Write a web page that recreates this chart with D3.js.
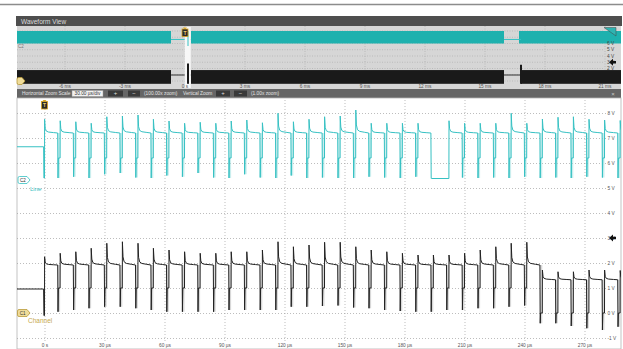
<!DOCTYPE html>
<html>
<head>
<meta charset="utf-8">
<script src="https://cdn.jsdelivr.net/npm/d3@7"></script>
<style>
body { margin: 0; background: #fff; }
svg { display: block; }
text { font-family: "Liberation Sans", Arial, sans-serif; }
</style>
</head>
<body>
<script>
// Tick values for both views
var timeTicksUs = [0, 30, 60, 90, 120, 150, 180, 210, 240, 270];
var voltTicks = [-1, 0, 1, 2, 3, 4, 5, 6, 7, 8];
var overviewTicksMs = [-6, -3, 0, 3, 6, 9, 12, 15, 18, 21];
var overviewVoltLabels = [2, 3, 4, 5, 6];

// Rising edge of every pulse in the zoomed view (µs)
var pulseStart = [0, 7.8, 15.6, 23.3, 31.1, 38.9, 46.7, 54.4, 62.2, 70.0, 77.8, 85.6, 93.3,
    101.1, 108.9, 116.7, 124.4, 132.2, 140.0, 147.8, 155.6, 163.3, 171.1, 178.9, 186.7, 194.4,
    202.2, 210.0, 217.8, 225.6, 233.3, 241.1, 248.9, 256.7, 264.4, 272.2, 280.0, 287.8];

// C2 "Line" (cyan) - overshoot peak and bottom of the down spike per pulse (V), null = pulse missing
var c2Peak = [7.75, 7.69, 7.65, 7.59, 7.85, 7.88, 7.92, 7.75, 7.68, 7.59, 7.63, 7.59, 7.68,
    7.72, 7.61, 7.99, 7.65, 7.75, 7.85, 7.88, 8.12, 7.59, 7.59, 7.59, 7.59, null,
    7.69, 7.59, 7.59, 7.59, 7.99, 7.59, 7.76, 7.83, 7.85, 7.75, 7.72, 7.70];
var c2Low = [5.4, 5.45, 5.4, 5.55, 5.6, 5.42, 5.4, 5.5, 5.45, 5.6, 5.42, 5.4, 5.55,
    5.42, 5.4, 5.5, 5.4, 5.42, 5.4, 5.4, 5.45, 5.42, 5.4, 5.45, 5.38, 5.4,
    5.42, 5.4, 5.42, 5.4, 5.45, 5.4, 5.42, 5.4, 5.45, 5.42, 5.4, 5.4];
var c2End = 7.2;
var c2Blip = 6.2;
var c2Pre = [6.65, 5.4];

// C1 "Channel" (black)
var c1Peak = [2.25, 2.39, 2.45, 2.59, 2.79, 2.85, 2.79, 2.59, 2.52, 2.45, 2.39, 2.39, 2.45,
    2.45, 2.52, 2.85, 2.65, 2.72, 2.83, 2.83, 2.65, 2.52, 2.45, 2.39, 2.32, 2.32,
    2.32, 2.39, 2.52, 2.65, 2.79, 2.83, 1.72, 1.65, 1.65, 1.72, 1.72, 1.70];
var c1Low = [0.05, 0.12, 0.19, 0.25, 0.25, 0.19, 0.12, 0.05, 0.05, 0.05, 0.05, 0.12, 0.12,
    0.12, 0.12, 0.25, 0.25, 0.28, 0.3, 0.22, 0.19, 0.12, 0.08, 0.05, 0.05, 0.12,
    0.12, 0.19, 0.19, 0.25, 0.3, -0.41, -0.41, -0.52, -0.61, -0.68, -0.55, -0.55];
var c1End = [1.92, 1.92, 1.92, 1.92, 1.92, 1.92, 1.92, 1.92, 1.92, 1.92, 1.92, 1.92, 1.92,
    1.92, 1.92, 1.92, 1.92, 1.92, 1.92, 1.92, 1.92, 1.92, 1.92, 1.92, 1.92, 1.92,
    1.92, 1.92, 1.92, 1.92, 1.92, 1.92, 1.33, 1.33, 1.33, 1.33, 1.33, 1.33];
var c1Blip = [1, 1, 1, 1, 1, 1, 1, 1, 1, 1, 1, 1, 1, 1, 1, 1, 1, 1, 1, 1, 1, 1, 1, 1, 1, 1,
    1, 1, 1, 1, 1, 0, 0, 0, 0, 0, 0, 0];
var c1Pre = [0.96, -0.1];

// shape of the decay after each edge: [µs after edge, share of overshoot left]
var decayShape = [[0.35, 0.35], [0.9, 0.14], [2.0, 0.07], [4.5, 0.03]];

// Overview (ms): where the burst is running, and the quiet gaps
var c2BandMs = [[-8.4, -0.7], [0.3, 15.95], [16.7, 21.8]];
var c1BandMs = [[-8.4, -0.7], [0.3, 15.95], [16.8, 21.8]];
var gapMs = [[-0.7, 0.3], [15.95, 16.8]];
var c2BandV = [6.0, 8.0];
var c1BandV = [-0.45, 1.75];

var W = 623, H = 349;
var cyan = "#36c1c3";
var gridCol = "#a0a0a0";

var svg = d3.select("body").append("svg").attr("width", W).attr("height", H);

// thin rule at the very top
svg.append("line").attr("x1", 0).attr("x2", W).attr("y1", 4.5).attr("y2", 4.5)
    .attr("stroke", "#8c8c8c").attr("stroke-width", 1.5);

// ---------------- Overview panel ----------------
var xo = d3.scaleLinear().domain([-8.4, 21.8]).range([17, 621]);
var yo = d3.scaleLinear().domain([0, 8]).range([81, 31]);

svg.append("rect").attr("x", 16).attr("y", 16).attr("width", 606).attr("height", 10).attr("fill", "#4e4e4e");
svg.append("text").attr("x", 21).attr("y", 23.5).attr("font-size", "6.5px").attr("fill", "#dcdcdc").text("Waveform View");
svg.append("rect").attr("x", 17).attr("y", 26).attr("width", 604).attr("height", 63).attr("fill", "#d6d6d6");

// overview grid
svg.append("g").selectAll("line").data(d3.range(0, 9)).enter().append("line")
    .attr("x1", 17).attr("x2", 604).attr("y1", function(d) { return yo(d); }).attr("y2", function(d) { return yo(d); })
    .attr("stroke", "#a9a9a9").attr("stroke-width", 0.6).attr("stroke-dasharray", "1,1.5");
svg.append("g").selectAll("line").data(overviewTicksMs).enter().append("line")
    .attr("x1", function(d) { return xo(d); }).attr("x2", function(d) { return xo(d); })
    .attr("y1", 26).attr("y2", 85)
    .attr("stroke", "#a9a9a9").attr("stroke-width", 0.6).attr("stroke-dasharray", "1,1.5");

// bands
svg.append("g").selectAll("rect").data(c2BandMs).enter().append("rect")
    .attr("x", function(d) { return xo(d[0]); }).attr("width", function(d) { return xo(d[1]) - xo(d[0]); })
    .attr("y", yo(c2BandV[1])).attr("height", yo(c2BandV[0]) - yo(c2BandV[1])).attr("fill", "#1eb1ae");
svg.append("g").selectAll("rect").data(c1BandMs).enter().append("rect")
    .attr("x", function(d) { return xo(d[0]); }).attr("width", function(d) { return xo(d[1]) - xo(d[0]); })
    .attr("y", yo(c1BandV[1])).attr("height", yo(c1BandV[0]) - yo(c1BandV[1])).attr("fill", "#1a1a1a");
// quiet parts
svg.append("g").selectAll("line").data(gapMs).enter().append("line")
    .attr("x1", function(d) { return xo(d[0]); }).attr("x2", function(d) { return xo(d[1]); })
    .attr("y1", yo(c2Pre[0])).attr("y2", yo(c2Pre[0])).attr("stroke", cyan).attr("stroke-width", 1);
svg.append("g").selectAll("line").data(gapMs).enter().append("line")
    .attr("x1", function(d) { return xo(d[0]); }).attr("x2", function(d) { return xo(d[1]); })
    .attr("y1", yo(c1Pre[0])).attr("y2", yo(c1Pre[0])).attr("stroke", "#333").attr("stroke-width", 1);

// zoom window (white stripe) with the squeezed burst start
var zw = xo(-0.01375), zw1 = xo(0.28825);
svg.append("rect").attr("x", zw).attr("y", 27).attr("width", zw1 - zw).attr("height", 61).attr("fill", "#f7f7f7");
svg.append("rect").attr("x", xo(0.1)).attr("y", yo(2.8)).attr("width", 2).attr("height", yo(-0.45) - yo(2.8)).attr("fill", "#1a1a1a");
svg.append("line").attr("x1", xo(0.15)).attr("x2", xo(0.15)).attr("y1", yo(8)).attr("y2", yo(5.6)).attr("stroke", cyan);
svg.append("rect").attr("x", xo(16.75)).attr("y", yo(2.6)).attr("width", 2).attr("height", yo(-0.45) - yo(2.6)).attr("fill", "#1a1a1a");

// overview labels
svg.append("g").selectAll("text").data(overviewTicksMs).enter().append("text")
    .attr("x", function(d) { return xo(d); }).attr("y", 88.3).attr("text-anchor", "middle")
    .attr("font-size", "4.8px").attr("fill", "#555")
    .text(function(d) { return d === 0 ? "0 s" : d + " ms"; });
svg.append("g").selectAll("text").data(overviewVoltLabels).enter().append("text")
    .attr("x", 607).attr("y", function(d) { return yo(d) + 1.7; })
    .attr("font-size", "4.8px").attr("fill", "#444")
    .text(function(d) { return d + " V"; });
svg.append("text").attr("x", 18).attr("y", 48).attr("font-size", "4.5px").attr("fill", "#777").text("C2");

// ---------------- Toolbar ----------------
svg.append("rect").attr("x", 17).attr("y", 89).attr("width", 604).attr("height", 9).attr("fill", "#666");
var tb = svg.append("g").attr("font-size", "4.8px");
tb.append("text").attr("x", 22).attr("y", 95.3).attr("fill", "#e4e4e4").text("Horizontal Zoom Scale");
tb.append("rect").attr("x", 72).attr("y", 90.5).attr("width", 31).attr("height", 6).attr("fill", "#f2f2f2").attr("stroke", "#999").attr("stroke-width", 0.5);
tb.append("text").attr("x", 87.5).attr("y", 95.2).attr("text-anchor", "middle").attr("fill", "#333").text("30.00 µs/div");
var buttons = [[108, 15, "+"], [128, 12, "−"], [216, 14, "+"], [234, 13, "−"]];
buttons.forEach(function(b) {
    tb.append("rect").attr("x", b[0]).attr("y", 90.5).attr("width", b[1]).attr("height", 6).attr("fill", "#3a3a3a");
    tb.append("text").attr("x", b[0] + b[1] / 2).attr("y", 95.4).attr("text-anchor", "middle").attr("fill", "#ddd").attr("font-size", "6px").text(b[2]);
});
tb.append("text").attr("x", 144).attr("y", 95.3).attr("fill", "#e4e4e4").text("(100.00x zoom)");
tb.append("text").attr("x", 183).attr("y", 95.3).attr("fill", "#e4e4e4").text("Vertical Zoom");
tb.append("text").attr("x", 251).attr("y", 95.3).attr("fill", "#e4e4e4").text("(1.00x zoom)");
tb.append("text").attr("x", 613).attr("y", 95.6).attr("text-anchor", "middle").attr("fill", "#ccc").attr("font-size", "6px").text("×");

// ---------------- Zoomed view ----------------
var x = d3.scaleLinear().domain([-13.75, 288.25]).range([17, 621]);
var y = d3.scaleLinear().domain([-1, 8]).range([338, 113]);

svg.append("rect").attr("x", 17).attr("y", 98).attr("width", 604).attr("height", 251)
    .attr("fill", "#fff").attr("stroke", "#b5b5b5").attr("stroke-width", 0.8);

// grid + tick labels through the axes
var xAxis = d3.axisBottom(x).tickValues(timeTicksUs).tickSize(-243).tickPadding(3)
    .tickFormat(function(d) { return d === 0 ? "0 s" : d + " µs"; });
var gx = svg.append("g").attr("transform", "translate(0,341)").call(xAxis);
var yAxis = d3.axisRight(y).tickValues(voltTicks).tickSize(-589).tickPadding(1.5)
    .tickFormat(function(d) { return d + " V"; });
var gy = svg.append("g").attr("transform", "translate(606,0)").call(yAxis);
[gx, gy].forEach(function(g) {
    g.select(".domain").remove();
    g.selectAll(".tick line").attr("stroke", gridCol).attr("stroke-width", 0.7).attr("stroke-dasharray", "1,2");
    g.selectAll(".tick text").attr("font-size", "4.8px").attr("fill", "#555").attr("font-family", "Liberation Sans, Arial, sans-serif");
});

function val(a, k) { return Array.isArray(a) ? a[k] : a; }

// turn the per-pulse readings into a polyline, and collect the down spikes
function buildTrace(pre, peak, low, end, blip) {
    var pts = [[x.domain()[0], pre[0]], [-0.45, pre[0]], [-0.3, pre[1]], [0, pre[1]]];
    var spikes = [];
    var k = 0;
    while (k < pulseStart.length) {
        var t0 = pulseStart[k];
        var j = k + 1;
        while (j < pulseStart.length && peak[j] == null) j++;
        var t1 = k + 1 < pulseStart.length ? pulseStart[k + 1] : t0 + 7.8;
        var tNext = j < pulseStart.length ? pulseStart[j] : t1;
        var e = val(end, k);
        var b = j > k + 1 ? low[k] : val(blip, k);
        pts.push([t0 + 0.05, peak[k]]);
        decayShape.forEach(function(s) { pts.push([t0 + s[0], e + s[1] * (peak[k] - e)]); });
        pts.push([t1 - 1.2, e], [t1 - 1.05, low[k]], [t1 - 0.85, b], [tNext, b]);
        if (j === k + 1) spikes.push({ t: t1 - 1.2, t1: t1, hi: e, lo: low[k] });
        k = j;
    }
    return { pts: pts, spikes: spikes };
}

svg.append("clipPath").attr("id", "plotClip").append("rect")
    .attr("x", 17).attr("y", 98).attr("width", 604).attr("height", 251);

var line = d3.line().x(function(d) { return x(d[0]); }).y(function(d) { return y(d[1]); });

var c2 = buildTrace(c2Pre, c2Peak, c2Low, c2End, c2Blip);
var c1 = buildTrace(c1Pre, c1Peak, c1Low, c1End, c1Blip);

var traces = svg.append("g").attr("clip-path", "url(#plotClip)");
// faint smear inside each fast down spike
[[c2, "#9fe0e0"], [c1, "#b8b8b8"]].forEach(function(c) {
    traces.append("g").selectAll("rect").data(c[0].spikes).enter().append("rect")
        .attr("x", function(d) { return x(d.t); }).attr("width", function(d) { return x(d.t1) - x(d.t); })
        .attr("y", function(d) { return y(d.hi); }).attr("height", function(d) { return y(d.lo) - y(d.hi); })
        .attr("fill", c[1]).attr("opacity", 0.55);
});
traces.append("path").attr("d", line(c2.pts))
    .attr("fill", "none").attr("stroke", cyan).attr("stroke-width", 1);
traces.append("path").attr("d", line(c1.pts))
    .attr("fill", "none").attr("stroke", "#222").attr("stroke-width", 1);

// ---------------- markers ----------------
function trigger(cx, top) {
    var g = svg.append("g");
    g.append("path").attr("d", "M" + (cx - 2) + "," + top + " L" + (cx + 2) + "," + top + " L" + cx + "," + (top + 2) + "Z").attr("fill", "#d9a520");
    g.append("rect").attr("x", cx - 3).attr("y", top + 1.5).attr("width", 6).attr("height", 7.5)
        .attr("fill", "#2b2b2b").attr("stroke", "#d9a520").attr("stroke-width", 0.8);
    g.append("text").attr("x", cx).attr("y", top + 7.3).attr("text-anchor", "middle").attr("font-size", "5px")
        .attr("font-weight", "bold").attr("fill", "#f0d070").text("T");
}
trigger(x(0), 100);
trigger(xo(0), 27.5);

function arrowLeft(ax, ay) {
    svg.append("path").attr("d", "M" + ax + "," + ay + " L" + (ax + 4) + "," + (ay - 3.5) + " L" + (ax + 4) + "," + (ay - 1.2) +
        " L" + (ax + 7) + "," + (ay - 1.2) + " L" + (ax + 7) + "," + (ay + 1.2) + " L" + (ax + 4) + "," + (ay + 1.2) +
        " L" + (ax + 4) + "," + (ay + 3.5) + "Z").attr("fill", "#111");
}
arrowLeft(609, y(3));
arrowLeft(609, yo(3));

// cyan channel marker top right of overview
svg.append("path").attr("d", "M604,27.5 L616,27.5 L616,36 Z").attr("fill", "#2fb3b1").attr("stroke", "#444").attr("stroke-width", 0.5);

function badge(bx, by, w, fill, stroke, label) {
    var g = svg.append("g");
    g.append("path").attr("d", "M" + (bx + 1.5) + "," + by + " L" + (bx + w - 3) + "," + by + " L" + (bx + w) + "," + (by + 3.5) +
        " L" + (bx + w - 3) + "," + (by + 7) + " L" + (bx + 1.5) + "," + (by + 7) + " Q" + bx + "," + (by + 7) + " " + bx + "," + (by + 5.5) +
        " L" + bx + "," + (by + 1.5) + " Q" + bx + "," + by + " " + (bx + 1.5) + "," + by + "Z")
        .attr("fill", fill).attr("stroke", stroke).attr("stroke-width", 0.8);
    g.append("text").attr("x", bx + w / 2 - 1).attr("y", by + 5.2).attr("text-anchor", "middle")
        .attr("font-size", "4.5px").attr("fill", "#333").text(label);
}
badge(18, 176.5, 12, "#fff", cyan, "C2");
svg.append("text").attr("x", 30).attr("y", 191).attr("font-size", "6px").attr("fill", cyan).text("Line");
badge(17.5, 309.5, 12.5, "#efdc9a", "#b99a3a", "C1");
svg.append("text").attr("x", 28).attr("y", 323).attr("font-size", "6.5px").attr("fill", "#c6a94e").text("Channel");
badge(17, 77.5, 8, "#efdc9a", "#b99a3a", "");
</script>
</body>
</html>
